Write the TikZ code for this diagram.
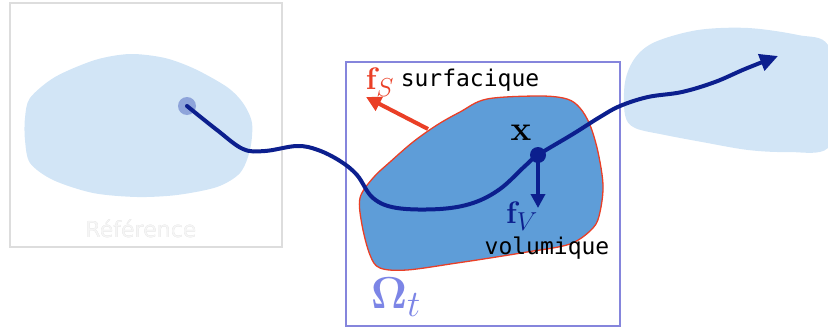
\documentclass[tikz,border=0pt]{standalone}
\usepackage[no-math]{fontspec}
\usepackage{amsmath}
\usepackage[outline]{contour}
\contourlength{0.9pt}
\newfontfamily\monof{DejaVu Sans Mono}
\newfontfamily\reff{DejaVu Sans}
\usetikzlibrary{arrows.meta}
\definecolor{blobl}{HTML}{D2E5F6}
\definecolor{blobm}{HTML}{5E9DD8}
\definecolor{edgered}{HTML}{EA3F26}
\definecolor{navy}{HTML}{0C1F8E}
\definecolor{peri}{HTML}{8585DC}
\definecolor{omegac}{HTML}{7C85E6}
\definecolor{refgray}{HTML}{DDDDDD}
\definecolor{reftext}{HTML}{D2D2D2}
\definecolor{dotc}{HTML}{8EA4DA}
\tikzset{
  traj/.style={draw=navy, line width=4pt, line cap=round},
  lbl/.style={inner sep=0pt, font=\monof\fontsize{23}{23}\selectfont},
  mathlbl/.style={inner sep=0pt, font=\Huge},
}
\begin{document}
\begin{tikzpicture}[x=1pt,y=-1pt]
\useasboundingbox (0,0) rectangle (828,332);
% left frame
\node[draw=refgray, line width=1.8pt, minimum width=272pt, minimum height=244pt, inner sep=0pt] (refbox) at (146,125) {};
\fill[blobl] plot[smooth cycle, tension=0.5] coordinates {(25,118) (30,98) (55,77) (95,60) (130,54) (165,58) (195,69) (227,87) (243,103) (252,123) (250,150) (240,173) (217,187) (177,195) (137,197) (93,193) (53,180) (30,163) (25,140)};
\node[font=\reff\fontsize{22}{22}\selectfont, text=white!96!black, inner sep=0pt] (reflabel) at (141,229) {\contour{reftext}{Référence}};
\node[circle, fill=dotc, minimum size=18pt, inner sep=0pt] (p0) at (187,106) {};
% right blob
\fill[blobl] plot[smooth cycle, tension=0.55] coordinates {(625,82) (635,58) (655,42) (698,30) (748,28) (798,35) (828,45) (840,100) (828,148) (788,152) (748,150) (702,142) (665,135) (635,128) (625,115)};
% middle frame
\node[draw=peri, line width=1.4pt, minimum width=274pt, minimum height=264pt, inner sep=0pt] (omegabox) at (483,194) {};
% middle blob
\filldraw[fill=blobm, draw=edgered, line width=1.3pt] plot[smooth cycle, tension=0.55] coordinates {(487,99) (540,96) (567,99) (580,108) (590,125) (598,152) (603,185) (600,212) (593,228) (570,244) (527,252) (490,258) (457,263) (407,270) (380,268) (370,255) (362,225) (360,198) (373,178) (390,162) (413,142) (437,125) (460,112)};
% trajectory
\coordinate (xpt) at (538,155);
\draw[traj, -{Triangle[length=18pt,width=17pt]}] plot[smooth, tension=0.6] coordinates {(187,106) (217,130) (243,149) (265,151) (297,146) (318,150) (340,161) (357,175) (373,198) (397,208) (440,209) (473,203) (500,189) (525,166) (xpt) (573,134) (600,117) (620,106) (648,97) (682,92) (715,82) (745,69) (778,56)};
\node[circle, fill=navy, minimum size=16pt, inner sep=0pt] (xdot) at (xpt) {};
\node[mathlbl] (xlbl) at (521,133) {\scalebox{1.4}{$\mathbf{x}$}};
% f_V
\coordinate (fvend) at (538,208);
\draw[-{Triangle[length=14pt,width=14pt]}, navy, line width=3.5pt] (xdot.center) -- (fvend);
\node[mathlbl, text=navy] (fv) at (522,216) {\scalebox{1.25}{$\mathbf{f}_V$}};
\node[lbl] (vol) at (547,248) {volumique};
% f_S
\coordinate (fsbase) at (428,129);
\coordinate (fsend) at (366,97);
\draw[-{Triangle[length=15pt,width=15pt]}, edgered, line width=4pt] (fsbase) -- (fsend);
\node[mathlbl, text=edgered] (fs) at (380,82) {\scalebox{1.25}{$\mathbf{f}_S$}};
\node[lbl] (surf) at (470,80) {surfacique};
% Omega
\node[mathlbl, text=omegac] (omega) at (396,297) {\scalebox{1.8}{$\mathbf{\Omega}_t$}};
\end{tikzpicture}
\end{document}
